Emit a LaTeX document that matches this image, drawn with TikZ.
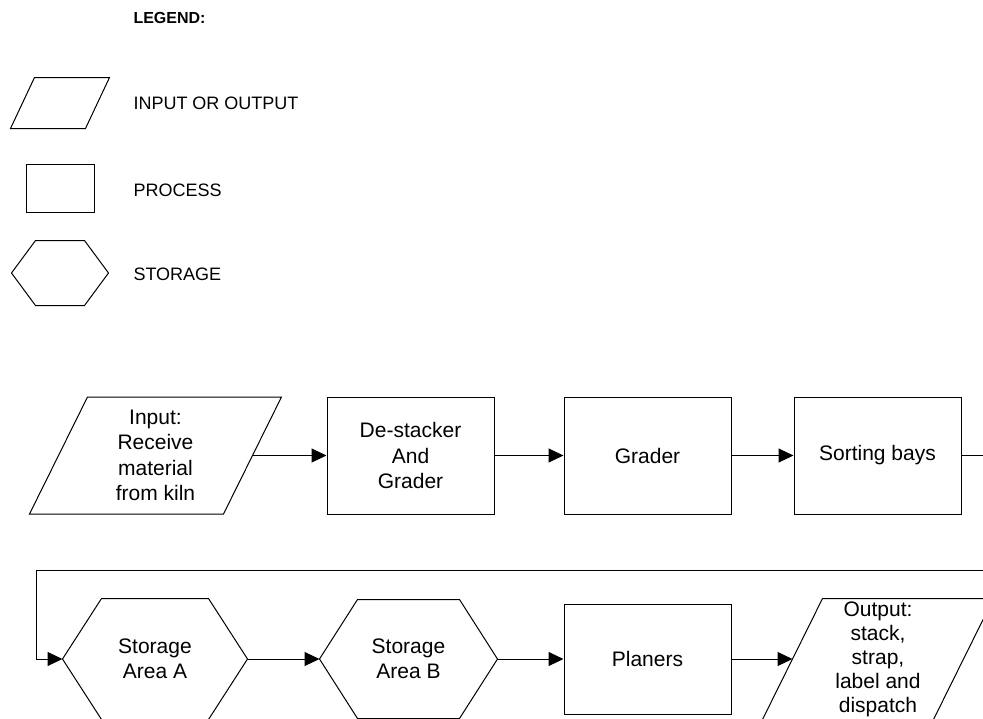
\documentclass[tikz,border=0pt]{standalone}
\usepackage{fontspec}
\setmainfont{Liberation Sans}
\usetikzlibrary{positioning,calc,arrows.meta}
% outline of an input/output parallelogram round node #1, slant #2
\newcommand*{\ioshape}[2]{%
  \draw ([xshift=#2]#1.north west) -- (#1.north east) -- ([xshift=-#2]#1.south east) -- (#1.south west) -- cycle;}
% outline of a storage hexagon round node #1, inset #2
\newcommand*{\storeshape}[2]{%
  \draw ([xshift=#2]#1.north west) -- ([xshift=-#2]#1.north east) -- (#1.east)
    -- ([xshift=-#2]#1.south east) -- ([xshift=#2]#1.south west) -- (#1.west) -- cycle;}

\begin{document}
\begin{tikzpicture}[x=1pt,y=-1pt,line width=1pt,
  every node/.style={inner sep=0pt,align=center,font=\fontsize{21}{25.5}\selectfont},
  box/.style={draw,minimum width=167pt,minimum height=117pt},
  flow/.style={-{Triangle[length=15pt,width=14pt]}},
  legtext/.style={anchor=west,font=\fontsize{18}{22}\selectfont}]
\useasboundingbox (0,0) rectangle (983,718);
\clip (0,0) rectangle (983,718);
% Legend
\node[anchor=west,font=\bfseries\fontsize{16}{19}\selectfont] (legend) at (133,18) {LEGEND:};
\node[minimum width=98pt,minimum height=50pt] (lio) at (60,103) {};
\ioshape{lio}{24pt}
\node[legtext] (lioname) at (133,103) {INPUT OR OUTPUT};
\node[draw,minimum width=68pt,minimum height=48pt] (lproc) at (60,188) {};
\node[legtext] (lprocname) at (133,190) {PROCESS};
\node[minimum width=96pt,minimum height=64pt] (lstore) at (60,273) {};
\storeshape{lstore}{24pt}
\node[legtext] (lstorename) at (133,274) {STORAGE};
% Top row
\node[minimum width=251pt,minimum height=116pt] (inp) at (155.5,455.5) {Input:\\Receive\\material\\from kiln};
\ioshape{inp}{58pt}
\node[box] (dest) at (410.5,455.5) {De-stacker\\And\\Grader};
\node[box] (grad) at (647.5,455.5) {Grader};
\node[box] (sort) at (877.5,455.5) {Sorting bays};
% Bottom row
\node[minimum width=184pt,minimum height=120pt] (stA) at (155,659) {Storage\\Area A};
\storeshape{stA}{39pt}
\node[minimum width=177pt,minimum height=118pt] (stB) at (408.5,659) {Storage\\Area B};
\storeshape{stB}{38pt}
\node[box,minimum height=110pt] (plan) at (647.5,659) {Planers};
\node[minimum width=230pt,minimum height=120pt,font=\fontsize{21}{24}\selectfont] (outp) at (878,659) {Output:\\stack,\\strap,\\label and\\dispatch};
\ioshape{outp}{60pt}
% Connectors
\coordinate (turn) at (995,570);
\coordinate (back) at (36,570);
\draw[flow] ([xshift=-29pt]inp.east) -- (dest.west);
\draw[flow] (dest.east) -- (grad.west);
\draw[flow] (grad.east) -- (sort.west);
\draw[flow] (sort.east) -| (turn) -- (back) |- (stA.west);
\draw[flow] (stA.east) -- (stB.west);
\draw[flow] (stB.east) -- (plan.west);
\draw[flow] (plan.east) -- ([xshift=30pt]outp.west);
\end{tikzpicture}
\end{document}
